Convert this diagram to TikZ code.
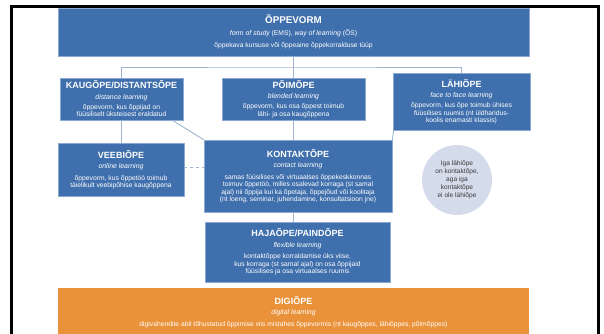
\documentclass[tikz,border=0pt]{standalone}
\usepackage{fontspec}
\setmainfont{Liberation Sans}
\usetikzlibrary{positioning}

\definecolor{formblue}{HTML}{3F6FAC}
\definecolor{formedge}{HTML}{8BAAD3}
\definecolor{linkgray}{HTML}{9FB4D0}
\definecolor{digiorange}{HTML}{EA923A}
\definecolor{notefill}{HTML}{D4DBEA}
\definecolor{notetext}{HTML}{3C3C3C}

\newcommand{\heading}[1]{{\fontsize{9}{10}\selectfont\bfseries #1}}
\newcommand{\english}[1]{{\fontsize{6.9}{7.5}\selectfont\itshape #1}}

\begin{document}
\begin{tikzpicture}[x=1pt,y=-1pt,
    formbox/.style={rectangle,fill=formblue,draw=formedge,line width=0.6pt,
      text=white,align=center,inner sep=0pt,
      font=\fontsize{6.75}{7.5}\selectfont},
    digibox/.style={formbox,fill=digiorange,draw=none},
    link/.style={draw=linkgray,line width=0.9pt},
    note/.style={circle,fill=notefill,text=notetext,align=center,
      inner sep=0pt,minimum size=70pt,font=\fontsize{6.6}{7.9}\selectfont}
  ]
  \useasboundingbox (0,0) rectangle (604,334);

  % outer frame
  \draw[line width=3pt] (11.5,6.5) rectangle (598.5,350);

  % form of study
  \node[formbox,minimum width=471pt,minimum height=48pt] (vorm) at (293.5,32)
    {{\fontsize{9.8}{10}\selectfont\bfseries ÕPPEVORM}\\[4pt]
     \english{form of study} (EMS), \english{way of learning} (ÕS)\\[5pt]
     õppekava kursuse või õppeaine õppekorralduse tüüp};

  % second row
  \node[formbox,minimum width=123pt,minimum height=42pt] (kaug) at (121.5,99)
    {\heading{KAUGÕPE/DISTANTSÕPE}\\[3pt]
     \english{distance learning}\\[2.5pt]
     õppevorm, kus õppijad on\\
     füüsiliselt üksteisest eraldatud};
  \node[formbox,minimum width=143pt,minimum height=42pt] (poim) at (293.5,99)
    {\heading{PÕIMÕPE}\\[3pt]
     \english{blended learning}\\[2.5pt]
     õppevorm, kus osa õppest toimub\\
     lähi- ja osa kaugõppena};
  \node[formbox,minimum width=137pt,minimum height=57pt] (lahi) at (461.5,101.5)
    {\heading{LÄHIÕPE}\\[3pt]
     \english{face to face learning}\\[2.5pt]
     õppevorm, kus õpe toimub ühises\\
     füüsilises ruumis (nt üldharidus-\\
     koolis enamasti klassis)};

  % third row
  \node[formbox,minimum width=126pt,minimum height=53pt] (veebi) at (121,169.5)
    {\heading{VEEBIÕPE}\\[3pt]
     \english{online learning}\\[4pt]
     õppevorm, kus õppetöö toimub\\
     täielikult veebipõhise kaugõppena};
  \node[formbox,minimum width=188pt,minimum height=72pt] (kontakt) at (298,176)
    {\heading{KONTAKTÕPE}\\[3pt]
     \english{contact learning}\\[4pt]
     samas füüsilises või virtuaalses õppekeskkonnas\\
     toimuv õppetöö, milles osalevad korraga (st samal\\
     ajal) nii õppija kui ka õpetaja, õppejõud või koolitaja\\
     (nt loeng, seminar, juhendamine, konsultatsioon jne)};
  \node[note] (remark) at (457,180)
    {Iga lähiõpe\\on kontaktõpe,\\aga iga\\kontaktõpe\\ei ole lähiõpe};

  % fourth row
  \node[formbox,minimum width=185pt,minimum height=60pt] (haja) at (297.5,252)
    {\heading{HAJAÕPE/PAINDÕPE}\\[3pt]
     \english{flexible learning}\\[4pt]
     kontaktõppe korraldamise üks viise,\\
     kus korraga (st samal ajal) on osa õppijaid\\
     füüsilises ja osa virtuaalses ruumis};

  % digital learning
  \node[digibox,minimum width=471pt,minimum height=48pt] (digi) at (293.5,312)
    {\heading{DIGIÕPE}\\[3pt]
     \english{digital learning}\\[4pt]
     digivahendite abil tõhustatud õppimise viis mistahes õppevormis (nt kaugõppes, lähiõppes, põimõppes)};

  % connectors
  \coordinate (hub) at (293.5,67);
  \draw[link] (vorm.south) -- (hub);
  \draw[link] (kaug.north) |- (hub) -| (lahi.north);
  \draw[link] (hub) -- (poim.north);
  \draw[link] (kaug.south) -- (kaug.south |- veebi.north);
  \draw[link] ([xshift=-11pt]kaug.south east) -- (kontakt.north west);
  \draw[link] (poim.south) -- (poim.south |- kontakt.north);
  \draw[link] ([xshift=1pt]lahi.south west) -- (kontakt.north east);
  \draw[link,dashed] ([yshift=2.5pt]veebi.east) -- ([yshift=2.5pt]veebi.east -| kontakt.west);
  \draw[link] (kontakt.south -| poim.south) -- (haja.north -| poim.south);
\end{tikzpicture}
\end{document}
